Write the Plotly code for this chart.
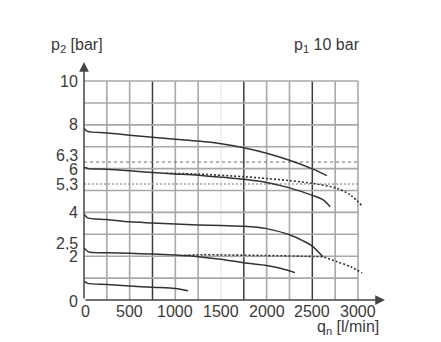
import plotly.graph_objects as go

# ---- data (q_n in l/min, p2 in bar) ----
c8_q = [0, 40, 250, 500, 750, 1000, 1250, 1500, 1750, 2000, 2250, 2500, 2660]
c8_p = [7.84, 7.70, 7.63, 7.53, 7.43, 7.34, 7.26, 7.14, 6.95, 6.70, 6.38, 5.99, 5.68]

c6_q = [0, 50, 250, 500, 750, 1000, 1250, 1500, 1750, 2000, 2250, 2500, 2620, 2695]
c6_p = [6.06, 6.00, 5.97, 5.90, 5.82, 5.76, 5.70, 5.61, 5.51, 5.37, 5.12, 4.78, 4.57, 4.26]

c6d_q = [900, 1250, 1750, 2000, 2250, 2500, 2770, 2920, 3050]
c6d_p = [5.79, 5.75, 5.63, 5.55, 5.45, 5.33, 5.10, 4.79, 4.28]

c4_q = [0, 40, 250, 500, 750, 1000, 1250, 1500, 1750, 1900, 2000, 2250, 2400, 2500, 2615]
c4_p = [3.93, 3.75, 3.68, 3.57, 3.52, 3.47, 3.43, 3.40, 3.37, 3.32, 3.26, 2.98, 2.70, 2.46, 1.98]

c2_q = [0, 50, 250, 500, 750, 1000, 1250, 1500, 1750, 2000, 2150, 2310]
c2_p = [2.38, 2.20, 2.16, 2.13, 2.10, 2.05, 1.98, 1.86, 1.70, 1.58, 1.45, 1.25]

c2d_q = [1100, 1300, 1500, 2000, 2500, 2615, 2770, 2920, 3045]
c2d_p = [2.04, 2.07, 2.06, 2.03, 1.99, 1.97, 1.75, 1.52, 1.24]

c1_q = [0, 40, 250, 500, 750, 1000, 1140]
c1_p = [0.86, 0.76, 0.71, 0.64, 0.58, 0.53, 0.42]

ref_q = [0, 3000]
ref63 = [6.3, 6.3]
ref53 = [5.3, 5.3]

x_ticks = [0, 500, 1000, 1500, 2000, 2500, 3000]
x_labels = ["0", "500", "1000", "1500", "2000", "2500", "3000"]
y_ticks = [0, 2, 2.5, 4, 5.3, 6, 6.3, 8, 10]
y_labels = ["0", "2", "2,5", "4", "5,3", "6", "6,3", "8", "10"]

grid_x = [250 * i for i in range(1, 13)]
dark_x = [750, 1750, 2500]
faint_x = [1500]
grid_y = list(range(1, 11))

XMAX = 3296
YMAX = 10.87
FONT = "Liberation Sans, Arial, sans-serif"
TXT = "#3a3a3a"
CURVE = "#333333"

fig = go.Figure()

shapes = []
for gx in grid_x:
    if gx in dark_x:
        col, w = "#3c3c3c", 1.5
    elif gx in faint_x:
        col, w = "#e2e2e2", 1
    else:
        col, w = "#a8a8a8", 1.6
    shapes.append(dict(type="line", xref="x", yref="y", x0=gx, x1=gx, y0=0, y1=10,
                       line=dict(color=col, width=w), layer="below"))
for gy in grid_y:
    shapes.append(dict(type="line", xref="x", yref="y", x0=0, x1=3000, y0=gy, y1=gy,
                       line=dict(color="#a8a8a8", width=1.6), layer="below"))

fig.add_trace(go.Scatter(x=ref_q, y=ref63, mode="lines",
                         line=dict(color="#6a6a6a", width=1, dash="3px,3px"), hoverinfo="skip"))
fig.add_trace(go.Scatter(x=ref_q, y=ref53, mode="lines",
                         line=dict(color="#a0a0a0", width=1.6, dash="2px,2px"), hoverinfo="skip"))

for q, p in [(c8_q, c8_p), (c6_q, c6_p), (c4_q, c4_p), (c2_q, c2_p), (c1_q, c1_p)]:
    fig.add_trace(go.Scatter(x=q, y=p, mode="lines",
                             line=dict(color=CURVE, width=1.5, shape="spline", smoothing=0.8),
                             hoverinfo="skip"))
for q, p in [(c6d_q, c6d_p), (c2d_q, c2d_p)]:
    fig.add_trace(go.Scatter(x=q, y=p, mode="lines",
                             line=dict(color=CURVE, width=1.6, shape="spline", smoothing=0.8,
                                       dash="2px,2px"),
                             hoverinfo="skip"))

annotations = []
# axis arrows
annotations.append(dict(x=0, y=YMAX, ax=0, ay=0, xref="x", yref="y", axref="x", ayref="y",
                        showarrow=True, arrowhead=2, arrowsize=1.3, arrowwidth=1.5,
                        arrowcolor="#444", text=""))
annotations.append(dict(x=XMAX, y=0, ax=0, ay=0, xref="x", yref="y", axref="x", ayref="y",
                        showarrow=True, arrowhead=2, arrowsize=1.3, arrowwidth=1.5,
                        arrowcolor="#444", text=""))
# y tick labels
yshift = {"6,3": 7, "6": -1, "0": -1, "2,5": 2, "5,3": -1}
for v, t in zip(y_ticks, y_labels):
    annotations.append(dict(x=0, y=v, xref="x", yref="y", text=t, showarrow=False,
                            xanchor="right", yanchor="middle", xshift=-4, yshift=yshift.get(t, 0),
                            height=13, valign="middle",
                            font=dict(family=FONT, size=16, color=TXT)))
# x tick labels
for v, t in zip(x_ticks, x_labels):
    annotations.append(dict(x=v, y=0, xref="x", yref="y", text=t, showarrow=False,
                            xanchor="center", yanchor="top", yshift=-1,
                            xshift=1 if t == "0" else 0,
                            font=dict(family=FONT, size=16, color=TXT)))
# titles
annotations.append(dict(x=49, y=45, xref="paper", yref="paper", text="p<sub>2</sub> [bar]",
                        showarrow=False, xanchor="left", yanchor="middle",
                        font=dict(family=FONT, size=16, color=TXT)))
annotations.append(dict(x=292, y=45, xref="paper", yref="paper", text="p<sub>1</sub> 10 bar",
                        showarrow=False, xanchor="left", yanchor="middle",
                        font=dict(family=FONT, size=16, color=TXT)))
annotations.append(dict(x=381, y=327, xref="paper", yref="paper", text="q<sub>n</sub> [l/min]",
                        showarrow=False, xanchor="right", yanchor="middle",
                        font=dict(family=FONT, size=16, color=TXT)))

# convert paper-pixel positions for titles
W, H = 441, 342
L, R, T, B = 84, 56, 62, 42
pw, ph = W - L - R, H - T - B
for a in annotations:
    if a.get("xref") == "paper":
        a["x"] = (a["x"] - L) / pw
        a["y"] = 1 - (a["y"] - T) / ph

fig.update_layout(
    width=W, height=H,
    margin=dict(l=L, r=R, t=T, b=B, pad=0),
    paper_bgcolor="white", plot_bgcolor="white",
    showlegend=False,
    shapes=shapes,
    annotations=annotations,
    xaxis=dict(range=[0, XMAX], showgrid=False, zeroline=False, showline=False,
               showticklabels=False, fixedrange=True),
    yaxis=dict(range=[0, YMAX], showgrid=False, zeroline=False, showline=False,
               showticklabels=False, fixedrange=True),
)

fig.write_html("out.html")
